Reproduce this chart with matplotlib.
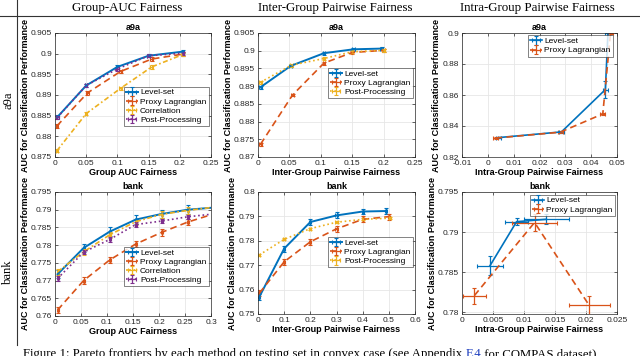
import matplotlib.pyplot as plt
from matplotlib.ticker import FuncFormatter

# MATLAB default colours
BLUE = '#0072BD'
ORANGE = '#D95319'
YELLOW = '#EDB120'
PURPLE = '#7E2F8E'

# ---- a9a, Group AUC fairness
a9a_grp_x = [0.004, 0.05, 0.1, 0.15, 0.205]
a9a_grp_level = [0.8847, 0.8923, 0.8968, 0.8995, 0.9005]
a9a_grp_proxy_x = [0.003, 0.052, 0.105, 0.155, 0.205]
a9a_grp_proxy = [0.8825, 0.8905, 0.8957, 0.8987, 0.8999]
a9a_grp_corr_x = [0.003, 0.05, 0.105, 0.155, 0.205]
a9a_grp_corr = [0.8765, 0.8855, 0.8916, 0.8968, 0.8998]
a9a_grp_post = [0.8846, 0.8923, 0.8963, 0.8995, 0.9001]

# ---- a9a, Inter-group pairwise fairness
a9a_inter_level_x = [0.004, 0.052, 0.105, 0.152, 0.197]
a9a_inter_level = [0.8897, 0.8957, 0.8993, 0.9004, 0.9006]
a9a_inter_proxy_x = [0.004, 0.055, 0.105, 0.15, 0.2]
a9a_inter_proxy = [0.8736, 0.8875, 0.8965, 0.8995, 0.9001]
a9a_inter_post_x = [0.004, 0.053, 0.105, 0.15, 0.2]
a9a_inter_post = [0.8911, 0.8959, 0.8978, 0.8997, 0.9001]

# ---- a9a, Intra-group pairwise fairness
a9a_intra_level_x = [0.004, 0.0285, 0.0455, 0.0465]
a9a_intra_level = [0.8325, 0.8362, 0.8635, 0.9]
a9a_intra_proxy_x = [0.003, 0.028, 0.0445, 0.0475]
a9a_intra_proxy = [0.8322, 0.8360, 0.8478, 0.9]

# ---- bank, Group AUC fairness
bank_grp_x = [0.005, 0.055, 0.105, 0.155, 0.205, 0.255, 0.305]
bank_grp_level = [0.7718, 0.7792, 0.7838, 0.7872, 0.7888, 0.7900, 0.7906]
bank_grp_proxy = [0.7617, 0.7700, 0.7758, 0.7803, 0.7836, 0.7865, 0.7888]
bank_grp_corr = [0.7725, 0.7781, 0.7829, 0.7866, 0.7887, 0.7898, 0.7907]
bank_grp_post = [0.7706, 0.7780, 0.7816, 0.7858, 0.7868, 0.7880, 0.7888]

# ---- bank, Inter-group pairwise fairness
bank_inter_level_x = [0.005, 0.1, 0.2, 0.3, 0.4, 0.49]
bank_inter_level = [0.7570, 0.7768, 0.7877, 0.7904, 0.7920, 0.7922]
bank_inter_proxy_x = [0.005, 0.1, 0.2, 0.3, 0.4, 0.5]
bank_inter_proxy = [0.7585, 0.7714, 0.7796, 0.7849, 0.7888, 0.7899]
bank_inter_post_x = [0.005, 0.1, 0.2, 0.3, 0.4, 0.505]
bank_inter_post = [0.7742, 0.7806, 0.7850, 0.7876, 0.7888, 0.7893]

# ---- bank, Intra-group pairwise fairness
bank_intra_level_x = [0.0045, 0.0088, 0.0136]
bank_intra_level = [0.7858, 0.7913, 0.7916]
bank_intra_level_xerr = [0.0021, 0.0019, 0.0036]
bank_intra_level_yerr = [0.0012, 0.0004, 0.0006]
bank_intra_proxy_x = [0.002, 0.0117, 0.0205]
bank_intra_proxy = [0.7821, 0.7912, 0.7809]
bank_intra_proxy_xerr = [0.0019, 0.0037, 0.0033]
bank_intra_proxy_yerr = [0.0010, 0.0010, 0.0012]

plt.rcParams['font.family'] = ['Liberation Sans', 'DejaVu Sans']

fig = plt.figure(figsize=(6.4, 3.56), dpi=100)

H = 356.0
def px_axes(x0, y0, x1, y1):
    return fig.add_axes([x0 / 640, 1 - y1 / H, (x1 - x0) / 640, (y1 - y0) / H])

fmt = FuncFormatter(lambda v, p: ('%g' % round(v, 4)))

def style(ax, title, xlabel, xlim, xticks, ylim, yticks):
    ax.set_xlim(xlim)
    ax.set_ylim(ylim)
    ax.set_xticks(xticks)
    ax.set_yticks(yticks)
    ax.xaxis.set_major_formatter(fmt)
    ax.yaxis.set_major_formatter(fmt)
    ax.grid(True, color='#e6e6e6', linewidth=0.6)
    ax.set_axisbelow(True)
    ax.tick_params(direction='in', length=2, width=0.5, labelsize=6,
                   colors='#262626', top=True, right=True, pad=2)
    for s in ax.spines.values():
        s.set_color('#262626')
        s.set_linewidth(0.5)
    ax.set_title(title, fontsize=6.5, fontweight='bold', pad=2)
    ax.set_xlabel(xlabel, fontsize=6.5, fontweight='bold', labelpad=1)
    ax.set_ylabel('AUC for Classification Performance', fontsize=6.5,
                  fontweight='bold', labelpad=1)

def eb(ax, x, y, c, ls, label, xe, ye, lw=1.2):
    ax.errorbar(x, y, xerr=xe, yerr=ye, color=c, linestyle=ls, linewidth=lw,
                elinewidth=0.9, capsize=1.5, capthick=0.8, label=label)

def legend(ax, loc, anchor):
    lg = ax.legend(loc=loc, bbox_to_anchor=anchor, fontsize=6, frameon=True,
                   fancybox=False, borderpad=0.25, labelspacing=0.15,
                   handlelength=1.4, handletextpad=0.3, borderaxespad=0.3)
    lg.get_frame().set_edgecolor('#262626')
    lg.get_frame().set_linewidth(0.5)

# top-left
ax = px_axes(55, 33, 211, 157)
eb(ax, a9a_grp_x, a9a_grp_level, BLUE, '-', 'Level-set', 0.002, 0.0004, 1.4)
eb(ax, a9a_grp_proxy_x, a9a_grp_proxy, ORANGE, (0, (4, 2.5)), 'Proxy Lagrangian', 0.002, 0.0004)
eb(ax, a9a_grp_corr_x, a9a_grp_corr, YELLOW, (0, (3, 1.5, 1, 1.5)), 'Correlation', 0.002, 0.0004)
eb(ax, a9a_grp_x, a9a_grp_post, PURPLE, ':', 'Post-Processing', 0.002, 0.0004)
style(ax, 'a9a', 'Group AUC Fairness', (0, 0.25), [0, 0.05, 0.1, 0.15, 0.2, 0.25],
      (0.875, 0.905), [0.875, 0.88, 0.885, 0.89, 0.895, 0.9, 0.905])
legend(ax, 'center right', (1.0, 0.41))

# top-middle
ax = px_axes(258, 33, 415, 157)
eb(ax, a9a_inter_level_x, a9a_inter_level, BLUE, '-', 'Level-set', 0.002, 0.0004, 1.4)
eb(ax, a9a_inter_proxy_x, a9a_inter_proxy, ORANGE, (0, (4, 2.5)), 'Proxy Lagrangian', 0.002, 0.0004)
eb(ax, a9a_inter_post_x, a9a_inter_post, YELLOW, ':', 'Post-Processing', 0.002, 0.0004)
style(ax, 'a9a', 'Inter-Group Pairwise Fairness', (0, 0.25), [0, 0.05, 0.1, 0.15, 0.2, 0.25],
      (0.87, 0.905), [0.87, 0.875, 0.88, 0.885, 0.89, 0.895, 0.9, 0.905])
legend(ax, 'upper right', (1.0, 0.74))

# top-right
ax = px_axes(462, 33, 617, 157)
eb(ax, a9a_intra_level_x, a9a_intra_level, BLUE, '-', 'Level-set', 0.001, [0.0004, 0.0008, 0.0055, 0.0003], 1.2)
eb(ax, a9a_intra_proxy_x, a9a_intra_proxy, ORANGE, (0, (4, 2.5)), 'Proxy Lagrangian', 0.001, 0.0004)
style(ax, 'a9a', 'Intra-Group Pairwise Fairness', (-0.01, 0.05), [-0.01, 0, 0.01, 0.02, 0.03, 0.04, 0.05],
      (0.82, 0.9), [0.82, 0.84, 0.86, 0.88, 0.9])
legend(ax, 'upper center', (0.7, 1.0))

# bottom-left
ax = px_axes(55, 192, 211, 316)
eb(ax, bank_grp_x, bank_grp_level, BLUE, '-', 'Level-set', 0.002, 0.0012, 1.4)
eb(ax, bank_grp_x, bank_grp_proxy, ORANGE, (0, (4, 2.5)), 'Proxy Lagrangian', 0.002, 0.0009)
eb(ax, bank_grp_x, bank_grp_corr, YELLOW, (0, (3, 1.5, 1, 1.5)), 'Correlation', 0.002, 0.0009)
eb(ax, bank_grp_x, bank_grp_post, PURPLE, ':', 'Post-Processing', 0.002, 0.0006)
style(ax, 'bank', 'Group AUC Fairness', (0, 0.3), [0, 0.05, 0.1, 0.15, 0.2, 0.25, 0.3],
      (0.76, 0.795), [0.76, 0.765, 0.77, 0.775, 0.78, 0.785, 0.79, 0.795])
legend(ax, 'center right', (1.0, 0.4))

# bottom-middle
ax = px_axes(258, 192, 415, 314)
eb(ax, bank_inter_level_x, bank_inter_level, BLUE, '-', 'Level-set', 0.004, 0.0012, 1.4)
eb(ax, bank_inter_proxy_x, bank_inter_proxy, ORANGE, (0, (4, 2.5)), 'Proxy Lagrangian', 0.004, 0.0012)
eb(ax, bank_inter_post_x, bank_inter_post, YELLOW, ':', 'Post-Processing', 0.004, 0.0004)
style(ax, 'bank', 'Inter-Group Pairwise Fairness', (0, 0.6), [0, 0.1, 0.2, 0.3, 0.4, 0.5, 0.6],
      (0.75, 0.8), [0.75, 0.76, 0.77, 0.78, 0.79, 0.8])
legend(ax, 'upper right', (1.0, 0.65))

# bottom-right
ax = px_axes(462, 192, 617, 314)
eb(ax, bank_intra_level_x, bank_intra_level, BLUE, '-', 'Level-set',
   bank_intra_level_xerr, bank_intra_level_yerr, 1.2)
eb(ax, bank_intra_proxy_x, bank_intra_proxy, ORANGE, (0, (4, 2.5)), 'Proxy Lagrangian',
   bank_intra_proxy_xerr, bank_intra_proxy_yerr)
style(ax, 'bank', 'Intra-Group Pairwise Fairness', (0, 0.025), [0, 0.005, 0.01, 0.015, 0.02, 0.025],
      (0.7798, 0.795), [0.78, 0.785, 0.79, 0.795])
legend(ax, 'upper right', (1.0, 1.0))

# table frame: header rule, row-label divider, headers
fig.add_artist(plt.Line2D([0, 1], [1 - 16 / H, 1 - 16 / H], color='#333333', linewidth=0.8))
fig.add_artist(plt.Line2D([17 / 640, 17 / 640], [1, 1 - 345 / H], color='#333333', linewidth=0.8))
serif = ['Liberation Serif', 'DejaVu Serif']
for xc, txt in [(127, 'Group-AUC Fairness'), (335, 'Inter-Group Pairwise Fairness'),
                (537, 'Intra-Group Pairwise Fairness')]:
    fig.text(xc / 640, 1 - 8 / H, txt, ha='center', va='center', fontsize=9.3, family=serif)
fig.text(8 / 640, 1 - 100 / H, 'a9a', rotation=90, ha='center', va='center', fontsize=9, family=serif)
fig.text(8 / 640, 1 - 272 / H, 'bank', rotation=90, ha='center', va='center', fontsize=9, family=serif)

# caption, cut by the bottom edge as in the reference
CAP_TOP = 1 - 348 / H
CAP_FS = 9.2
cap = fig.text(23 / 640, CAP_TOP,
               'Figure 1: Pareto frontiers by each method on testing set in convex case (see Appendix ',
               ha='left', va='top', fontsize=CAP_FS, family=serif)
fig.canvas.draw()
inv = fig.transFigure.inverted()
x1 = inv.transform((cap.get_window_extent().x1, 0))[0]
f4 = fig.text(x1, CAP_TOP, 'F.4', ha='left', va='top', fontsize=CAP_FS, family=serif, color='#1f3fbf')
fig.canvas.draw()
x2 = inv.transform((f4.get_window_extent().x1, 0))[0]
fig.text(x2, CAP_TOP, ' for COMPAS dataset).', ha='left', va='top', fontsize=CAP_FS, family=serif)

fig.savefig('out.png', dpi=100)
